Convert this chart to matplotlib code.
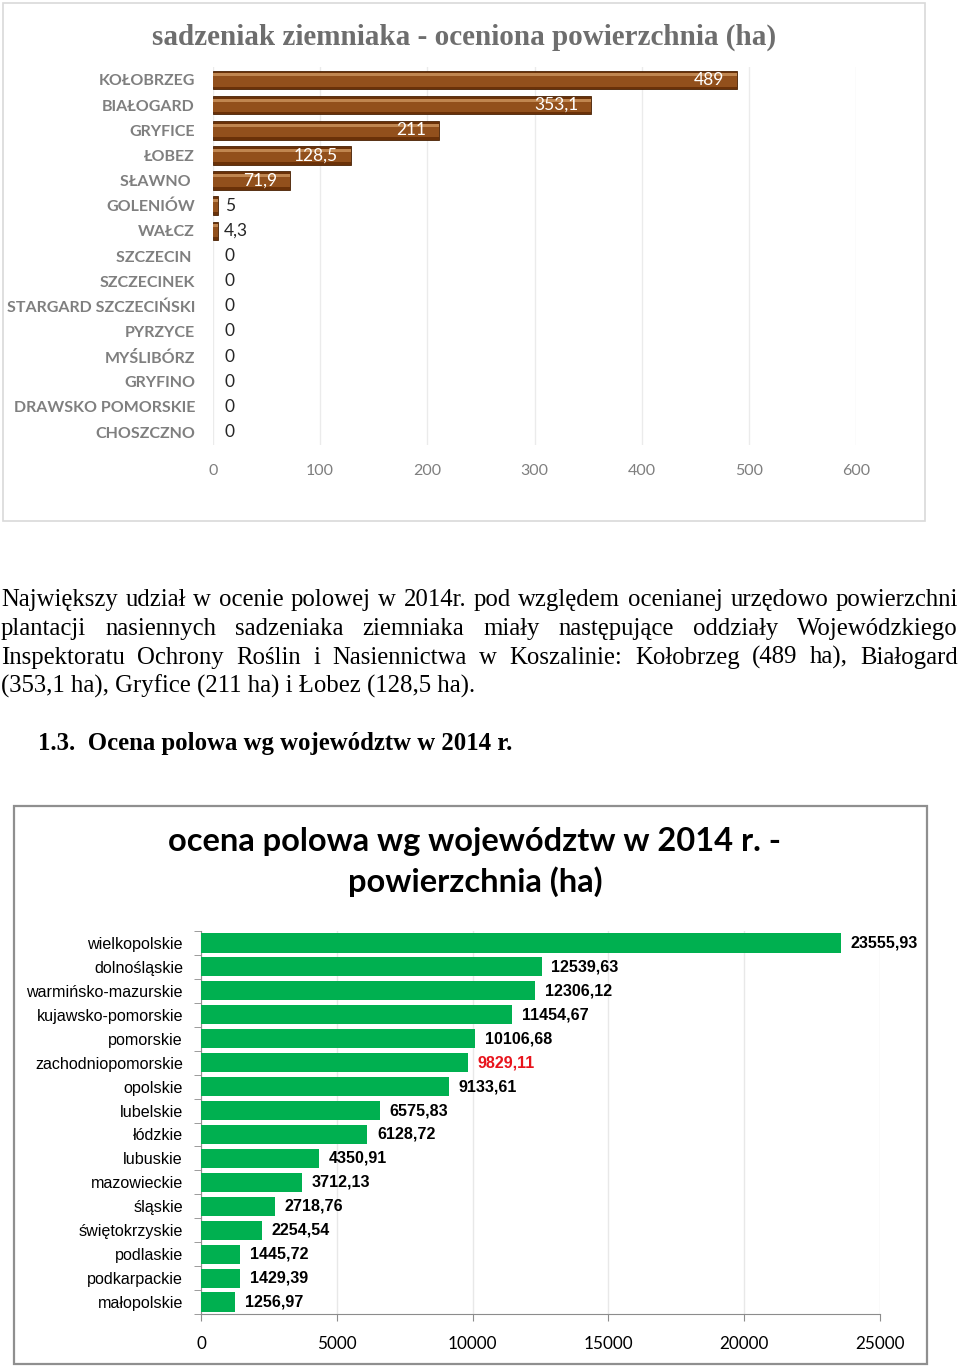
import matplotlib
matplotlib.use("Agg")
import matplotlib.pyplot as plt
import matplotlib.patches as mpatches
from matplotlib import font_manager as fm
import numpy as np

# ---------------- data ----------------
top_title = "sadzeniak ziemniaka - oceniona powierzchnia (ha)"
top_categories = ["KOŁOBRZEG", "BIAŁOGARD", "GRYFICE", "ŁOBEZ", "SŁAWNO ", "GOLENIÓW",
                  "WAŁCZ", "SZCZECIN ", "SZCZECINEK", "STARGARD SZCZECIŃSKI", "PYRZYCE",
                  "MYŚLIBÓRZ", "GRYFINO", "DRAWSKO POMORSKIE", "CHOSZCZNO"]
top_values = [489, 353.1, 211, 128.5, 71.9, 5, 4.3, 0, 0, 0, 0, 0, 0, 0, 0]
top_ticks = [0, 100, 200, 300, 400, 500, 600]

para_lines = [
    "Największy udział w ocenie polowej w 2014r. pod względem ocenianej urzędowo powierzchni",
    "plantacji nasiennych sadzeniaka ziemniaka miały następujące oddziały Wojewódzkiego",
    "Inspektoratu Ochrony Roślin i Nasiennictwa w Koszalinie: Kołobrzeg (489 ha), Białogard",
    "(353,1 ha), Gryfice (211 ha) i Łobez (128,5 ha).",
]
heading = "1.3.  Ocena polowa wg województw w 2014 r."

bot_title = "ocena polowa wg województw w 2014 r. -\npowierzchnia (ha)"
bot_categories = ["wielkopolskie", "dolnośląskie", "warmińsko-mazurskie", "kujawsko-pomorskie",
                  "pomorskie", "zachodniopomorskie", "opolskie", "lubelskie", "łódzkie",
                  "lubuskie", "mazowieckie", "śląskie", "świętokrzyskie", "podlaskie",
                  "podkarpackie", "małopolskie"]
bot_values = [23555.93, 12539.63, 12306.12, 11454.67, 10106.68, 9829.11, 9133.61, 6575.83,
              6128.72, 4350.91, 3712.13, 2718.76, 2254.54, 1445.72, 1429.39, 1256.97]
bot_ticks = [0, 5000, 10000, 15000, 20000, 25000]
highlight = "zachodniopomorskie"

# ---------------- fonts ----------------
names = {f.name for f in fm.fontManager.ttflist}
NARROW = "Liberation Sans Narrow" if "Liberation Sans Narrow" in names else "Liberation Sans"
NSIZE = 12.5 if NARROW == "Liberation Sans Narrow" else 11.6
CAL = "Lato" if "Lato" in names else "DejaVu Sans"
SERIF = "Liberation Serif"

W, H = 960, 1368
fig = plt.figure(figsize=(9.6, 13.68), dpi=100)


def fx(px):
    return px / W


def fy(py):
    return 1 - py / H


def fmt(v):
    s = ("%.2f" % v).rstrip("0").rstrip(".")
    return s.replace(".", ",")


# ---------------- boxes ----------------
fig.patches.append(mpatches.Rectangle((fx(3), fy(521)), fx(922), 518 / H, transform=fig.transFigure,
                                      fill=False, edgecolor="#d9d9d9", linewidth=1.2))
fig.patches.append(mpatches.Rectangle((fx(14), fy(1364)), fx(913), 558 / H, transform=fig.transFigure,
                                      fill=False, edgecolor="#8f8f8f", linewidth=1.6))

# ---------------- top chart ----------------
fig.text(fx(464), fy(37), top_title, ha="center", va="center", fontsize=21,
         fontweight="bold", family=SERIF, color="#6e6e6e")

ax1 = fig.add_axes([fx(213), fy(444.6), fx(643), 377.2 / H])
y = np.arange(len(top_values))
edges = ["#4a2204" if v > 0 else "none" for v in top_values]
ax1.barh(y, top_values, height=0.74, color="#6a3108", edgecolor=edges, linewidth=0.6, zorder=3)
ax1.barh(y, top_values, height=0.52, color="#92501c", linewidth=0, zorder=4)
ax1.barh(y - 0.2, top_values, height=0.12, color="#c08650", linewidth=0, zorder=5)
ax1.set_xlim(0, 600)
ax1.set_ylim(len(top_values) - 0.5, -0.5)
ax1.set_xticks(top_ticks)
ax1.set_xticklabels([str(t) for t in top_ticks], family=CAL, fontsize=11.5, color="#7f7f7f")
ax1.set_yticks(y)
ax1.set_yticklabels(top_categories, family=CAL, fontsize=11.5, fontweight="bold", color="#7f7f7f")
ax1.tick_params(axis="y", length=0, pad=13)
ax1.tick_params(axis="x", length=0, pad=14)
for s in ax1.spines.values():
    s.set_visible(False)
ax1.grid(axis="x", color="#ebebeb", linewidth=1, zorder=0)
ax1.set_axisbelow(True)
for yi, v in zip(y, top_values):
    if v > 50:
        ax1.annotate(fmt(v), (v, yi), xytext=(-9, 0), textcoords="offset points", ha="right",
                     va="center", family=CAL, fontsize=12.5, color="white", zorder=6)
    else:
        ax1.annotate(fmt(v), (v, yi), xytext=(4.5 if v > 0 else 8, 0), textcoords="offset points",
                     ha="left", va="center", family=CAL, fontsize=12.5, color="#262626", zorder=6)

# ---------------- paragraph (justified) ----------------
renderer = fig.canvas.get_renderer()
PFS = 17.8
x_left, x_right = 1, 958
baselines = [606, 635, 664, 693]
for i, (line, yb) in enumerate(zip(para_lines, baselines)):
    words = line.split(" ")
    if i == len(para_lines) - 1:
        fig.text(fx(x_left), fy(yb), line, ha="left", va="baseline", family=SERIF,
                 fontsize=PFS, color="black")
        continue
    widths = []
    for w_ in words:
        t = fig.text(0, 0, w_, family=SERIF, fontsize=PFS)
        widths.append(t.get_window_extent(renderer).width)
        t.remove()
    gap = (x_right - x_left - sum(widths)) / (len(words) - 1)
    xp = x_left
    for w_, wd in zip(words, widths):
        fig.text(fx(xp), fy(yb), w_, ha="left", va="baseline", family=SERIF,
                 fontsize=PFS, color="black")
        xp += wd + gap

fig.text(fx(38), fy(750), heading, ha="left", va="baseline", family=SERIF,
         fontsize=PFS, fontweight="bold", color="black")

# ---------------- bottom chart ----------------
fig.text(fx(475), fy(862), bot_title, ha="center", va="center", family=CAL, fontsize=23.5,
         fontweight="bold", color="black", linespacing=1.38)

ax2 = fig.add_axes([fx(201), fy(1314), fx(679), 383 / H])
y2 = np.arange(len(bot_values))
ax2.barh(y2, bot_values, height=0.8, color="#00b050", zorder=3)
ax2.set_xlim(0, 25000)
ax2.set_ylim(len(bot_values) - 0.5, -0.5)
ax2.set_xticks(bot_ticks)
ax2.set_xticklabels([str(t) for t in bot_ticks], family=CAL, fontsize=12.3, color="black")
ax2.set_yticks(y2)
ax2.set_yticklabels(bot_categories, family=NARROW, fontsize=NSIZE, color="black")
ax2.set_yticks(np.arange(len(bot_values) + 1) - 0.5, minor=True)
ax2.tick_params(axis="y", which="major", length=0, pad=13)
ax2.tick_params(axis="y", which="minor", length=5, color="#8c8c8c", direction="out")
ax2.tick_params(axis="x", length=5, color="#8c8c8c", pad=11)
for side in ["top", "right"]:
    ax2.spines[side].set_visible(False)
for side in ["left", "bottom"]:
    ax2.spines[side].set_color("#8c8c8c")
ax2.grid(axis="x", color="#e8e8e8", linewidth=1, zorder=0)
ax2.set_axisbelow(True)
for yi, (c, v) in enumerate(zip(bot_categories, bot_values)):
    ax2.annotate(fmt(v), (v, yi), xytext=(7, 0), textcoords="offset points", ha="left",
                 va="center", family=NARROW, fontsize=NSIZE, fontweight="bold",
                 color="#e8141c" if c == highlight else "black")

fig.savefig("out.png", dpi=100)
